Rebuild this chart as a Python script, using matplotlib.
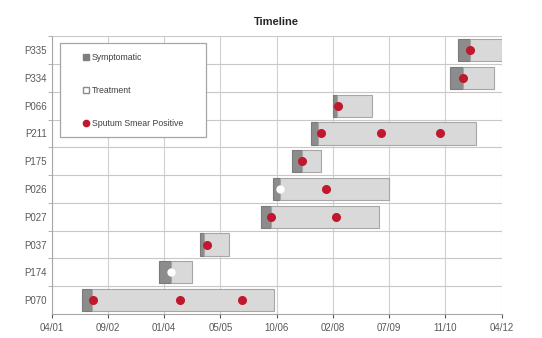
import matplotlib
matplotlib.use("Agg")
import matplotlib.pyplot as plt
import matplotlib.dates as mdates
from matplotlib.lines import Line2D
import pandas as pd

# patients, top to bottom
patients = ["P335", "P334", "P066", "P211", "P175", "P026", "P027", "P037", "P174", "P070"]
start = ["2011-03-08", "2010-12-30", "2008-02-26", "2007-08-09", "2007-02-21",
         "2006-09-05", "2006-05-22", "2004-12-01", "2003-12-02", "2002-01-12"]
symptomatic_days = [109, 115, 30, 65, 95, 65, 89, 33, 104, 89]
treatment_days = [282, 276, 314, 1402, 166, 969, 960, 219, 190, 1620]
smear_positive = {
    "P335": ["2011-06-25"],
    "P334": ["2011-04-21"],
    "P066": ["2008-04-05"],
    "P211": ["2007-11-09", "2009-04-25", "2010-10-02"],
    "P175": ["2007-05-27"],
    "P026": ["2007-12-23"],
    "P027": ["2006-08-19", "2008-03-21"],
    "P037": ["2005-01-27"],
    "P070": ["2002-04-25", "2004-06-03", "2005-12-09"],
}
other_marks = {"P026": ["2006-11-09"], "P174": ["2004-03-15"]}

axis_start = pd.Timestamp("2001-04-20")
tick_step = 500

plt.rcParams["font.family"] = ["Liberation Sans", "DejaVu Sans"]

fig = plt.figure(figsize=(5.42, 3.38), dpi=100)
ax = fig.add_axes([0.0954, 0.071, 0.8302, 0.822])

ypos = list(range(len(patients)))[::-1]
starts = pd.to_datetime(start)

x0 = mdates.date2num(starts)
ax.barh(ypos, symptomatic_days, left=x0, height=0.8, color="#8c8c8c",
        edgecolor="#7a7a7a", linewidth=0.8, zorder=2)
ax.barh(ypos, treatment_days, left=x0 + symptomatic_days, height=0.8,
        color="#d9d9d9", edgecolor="#a6a6a6", linewidth=0.8, zorder=2)

for name, y in zip(patients, ypos):
    for d in smear_positive.get(name, []):
        ax.plot(pd.Timestamp(d), y, "o", color="#c0182d", markersize=5.5, zorder=3)
    for d in other_marks.get(name, []):
        ax.plot(pd.Timestamp(d), y, "o", color="white", markersize=5, zorder=3)

ticks = [axis_start + pd.Timedelta(days=tick_step * k) for k in range(9)]
ax.set_xticks(mdates.date2num(ticks))
ax.xaxis.set_major_formatter(mdates.DateFormatter("%m/%y"))
ax.set_xlim(mdates.date2num(ticks[0]), mdates.date2num(ticks[-1]))
ax.set_ylim(-0.5, len(patients) - 0.5)
ax.set_yticks(ypos)
ax.set_yticklabels(patients)
ax.set_yticks([i + 0.5 for i in range(len(patients))], minor=True)

ax.grid(axis="x", which="major", color="#d0d0d0", linewidth=0.8, zorder=0)
ax.grid(axis="y", which="minor", color="#c8c8c8", linewidth=0.8, zorder=0)
ax.set_axisbelow(True)
for s in ["top", "right"]:
    ax.spines[s].set_visible(False)
for s in ["left", "bottom"]:
    ax.spines[s].set_color("#a6a6a6")
ax.tick_params(axis="both", which="major", labelsize=7, colors="#595959", length=3)
ax.tick_params(axis="y", which="major", length=0)
ax.tick_params(axis="y", which="minor", length=3, color="#a6a6a6")

ax.set_title("Timeline", fontsize=8, fontweight="bold", color="#262626", pad=8)

handles = [
    Line2D([], [], marker="s", linestyle="none", markersize=4,
           markerfacecolor="#7f7f7f", markeredgecolor="#7f7f7f"),
    Line2D([], [], marker="s", linestyle="none", markersize=4,
           markerfacecolor="white", markeredgecolor="#8c8c8c"),
    Line2D([], [], marker="o", linestyle="none", markersize=4.5,
           markerfacecolor="#c0182d", markeredgecolor="#c0182d"),
]
leg = ax.legend(handles, ["Symptomatic", "Treatment", "Sputum Smear Positive"],
                loc="upper left", bbox_to_anchor=(0.018, 0.975), borderaxespad=0,
                fontsize=6.3, labelspacing=2.75, handletextpad=0.3, handlelength=0.8,
                borderpad=1.1, fancybox=False, framealpha=1, edgecolor="#a6a6a6")
leg.get_frame().set_linewidth(0.9)
for t in leg.get_texts():
    t.set_color("#404040")
leg._legend_box.set_width(127)

fig.savefig("out.png", dpi=100)
